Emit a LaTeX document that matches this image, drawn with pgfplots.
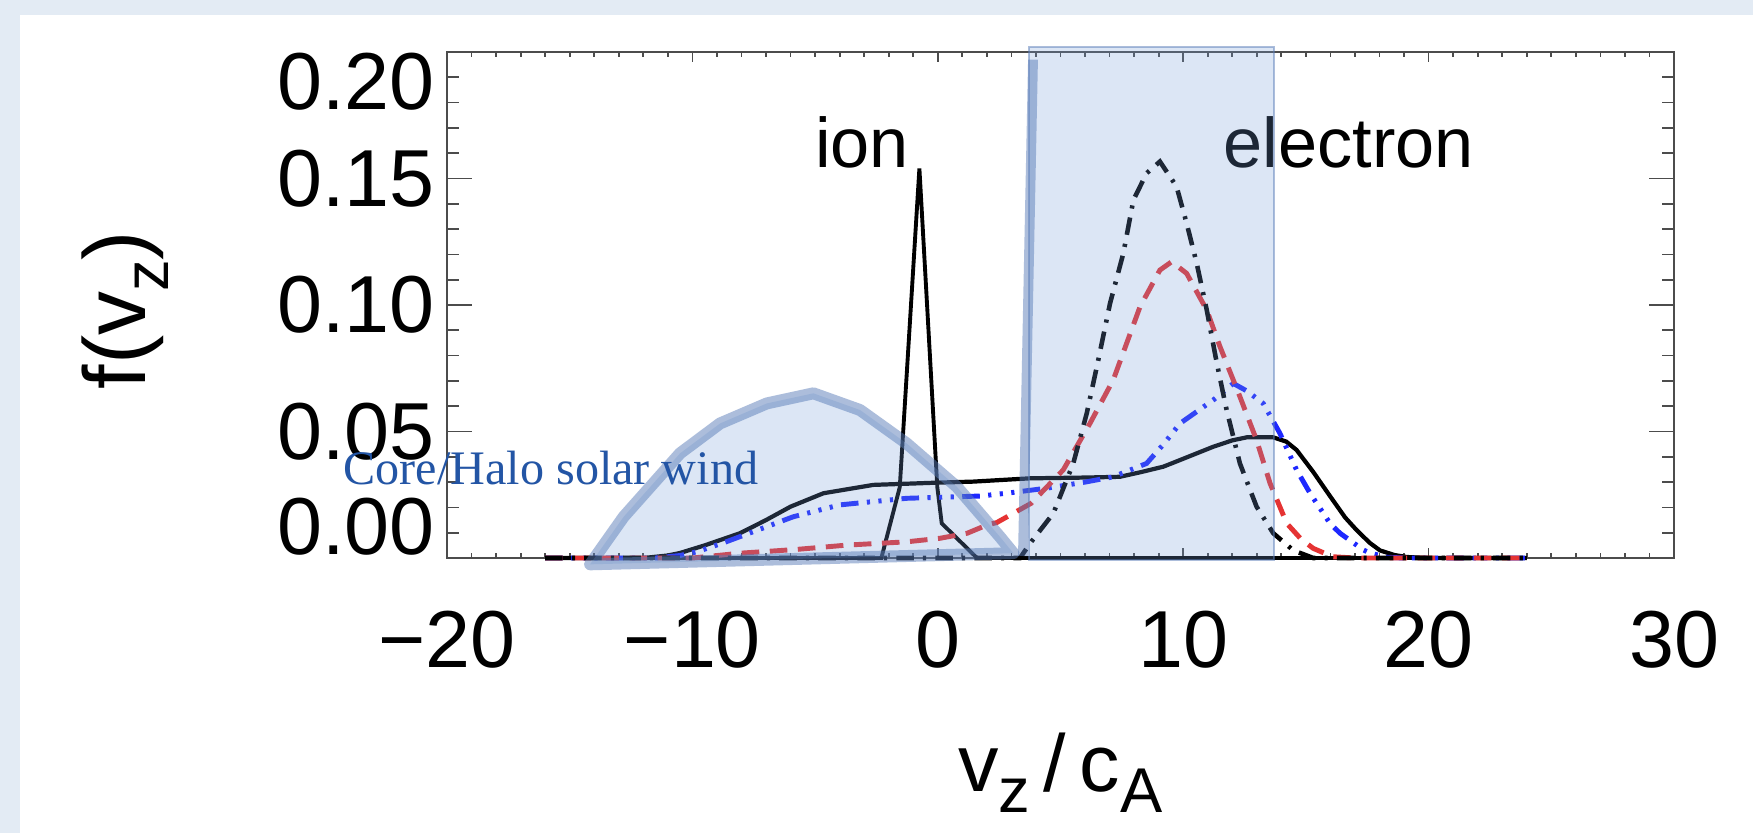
\documentclass[border=0pt]{standalone}
\usepackage{fontspec}
\setmainfont{Liberation Sans}
\newfontfamily\serif{Liberation Serif}
\usepackage{pgfplots}
\pgfplotsset{compat=1.18}

\definecolor{bgblue}{HTML}{E3EBF4}
\definecolor{idlred}{HTML}{E53333}
\definecolor{idlblue}{HTML}{1E28FF}
\definecolor{ovl}{RGB}{116,156,216}
\definecolor{ovledge}{RGB}{90,125,185}
\definecolor{annot}{RGB}{35,85,165}

\newcommand{\tk}{\fontsize{23}{26}\selectfont}
\newcommand{\sub}[1]{\raisebox{-0.26em}{\fontsize{18}{18}\selectfont #1}}

\pgfplotsset{
  frame/.style={
    scale only axis, width=122.7mm, height=50.6mm,
    xmin=-20, xmax=30, ymin=0, ymax=0.2,
    axis line style={black!70, line width=0.6pt},
    tick style={black!70, line width=0.5pt},
    clip=false,
  },
}

\begin{document}
\begin{tikzpicture}
% page background
\fill[bgblue] (-44.7mm,-27.5mm) rectangle (130.6mm,55.8mm);
\fill[white] (-42.7mm,-27.5mm) rectangle (130.6mm,54.3mm);

% x ticks (IDL: short ticks along x)
\begin{axis}[frame,
  ytick=\empty,
  xtick={-20,-10,0,10,20,30},
  xticklabels={−20,−10,0,10,20,30},
  minor x tick num=9,
  major tick length=1.0mm, minor tick length=0.5mm,
  xticklabel style={font=\tk, yshift=-4.1mm},
  xlabel={\tk v\sub{z}\,/\,c\sub{A}},
  xlabel style={at={(axis description cs:0.5,-0.462)}, anchor=base},
]
\end{axis}

\begin{axis}[frame,
  xtick=\empty,
  ytick={0,0.05,0.10,0.15,0.20},
  yticklabels={{\raisebox{9pt}[\height][\depth]{0.00}},0.05,0.10,0.15,{\raisebox{-8.5pt}[\height][\depth]{0.20}}},
  minor y tick num=4,
  major tick length=2.5mm, minor tick length=1.25mm,
  yticklabel style={font=\tk},
  ylabel={\fontsize{25}{28}\selectfont f(v\sub{z})},
  ylabel style={at={(axis description cs:-0.262,0.49)}, anchor=center},
]
% ion
\addplot[black, line width=1.1pt] coordinates {
(-16,0) (-2.3,0) (-1.55,0.028) (-0.75,0.154) (-0.02,0.028) (0.16,0.0137) (1.6,0) (24,0)};
% electron, solid
\addplot[black, line width=1.2pt] coordinates {
(-16,0) (-12,0) (-11,0.001) (-10.5,0.002) (-9.5,0.005) (-8.06,0.0098) (-7,0.015) (-6,0.0203)
(-4.66,0.0256) (-2.63,0.0289) (0,0.0298) (1.45,0.0302) (3.76,0.0315) (6,0.0318) (7.42,0.0321)
(8.3,0.034) (9.19,0.0361) (10.2,0.040) (11.23,0.044) (12.0,0.0465) (12.59,0.0477) (13.67,0.0477)
(14.2,0.046) (14.62,0.0427) (15.3,0.034) (15.98,0.0245) (16.6,0.016) (17.07,0.011) (17.6,0.006)
(18.02,0.003) (18.6,0.0012) (19.1,0.0004) (20,0) (24,0)};
% blue dash dot dot
\addplot[idlblue, line width=1.4pt, dash pattern=on 5pt off 2.4pt on 0.9pt off 2.4pt on 0.9pt off 2.4pt on 0.9pt off 2.4pt] coordinates {
(-16,0) (-11.5,0) (-10.5,0.001) (-9.8,0.0025) (-8.6,0.0065) (-7.52,0.0104) (-5.89,0.0163)
(-3.99,0.021) (-1.27,0.0236) (1.72,0.0245) (2.8,0.0256) (4.44,0.0276) (6,0.030) (7.15,0.0321)
(8.51,0.0374) (9.2,0.045) (9.87,0.0532) (11.23,0.0625) (12.04,0.069) (12.6,0.066) (13.26,0.0611)
(13.94,0.0493) (14.62,0.0348) (15.17,0.0256) (15.98,0.0137) (16.39,0.0098) (17.34,0.0032)
(17.6,0.002) (18.3,0.0003) (19,0) (24,0)};
% red dashed
\addplot[idlred, line width=1.4pt, dash pattern=on 5pt off 3pt] coordinates {
(-16,0) (-10,0) (-8.06,0.0019) (-5.75,0.0034) (-3.71,0.0051) (-1.27,0.0064) (0.09,0.0078)
(1.2,0.0098) (1.99,0.013) (2.4,0.0140) (3.8,0.0216) (5.11,0.0348) (6.2,0.0532) (7.15,0.0704)
(8.24,0.0993) (9.05,0.1138) (9.53,0.1171) (10.14,0.1125) (10.96,0.098) (11.5,0.0835)
(12.31,0.0638) (12.99,0.0466) (13.54,0.0295) (14.22,0.0137) (14.8,0.0075) (15.3,0.0038)
(16.1,0.0005) (17,0) (24,0)};
% black dash dot
\addplot[black, line width=1.3pt, dash pattern=on 5pt off 2.6pt on 0.9pt off 2.6pt] coordinates {
(-16,0) (3.35,0) (3.76,0.0058) (4.71,0.0177) (5.52,0.0374) (6.07,0.0572) (6.54,0.0783)
(7.02,0.1007) (7.56,0.1204) (7.97,0.1415) (8.51,0.1521) (9.05,0.1567) (9.73,0.1468)
(10.14,0.1323) (10.55,0.1165) (10.96,0.098) (11.37,0.077) (11.77,0.0585) (12.31,0.0374)
(12.99,0.0203) (13.67,0.0098) (14.49,0.003) (15.3,0) (24,0)};

\node[anchor=base, inner sep=0, font=\fontsize{20}{22}\selectfont] at (axis cs:-3.09,0.1545) {ion};
\node[anchor=base, inner sep=0, font=\fontsize{20}{22}\selectfont] at (axis cs:16.74,0.1545) {electron};

% highlight overlays
\filldraw[fill=ovl, fill opacity=0.25, draw=ovledge, draw opacity=0.5, line width=0.7pt]
  (axis cs:3.72,-0.0008) rectangle (axis cs:13.70,0.202);
\draw[ovledge, draw opacity=0.5, line width=2.8pt]
  (axis cs:3.88,0.197) -- (axis cs:3.47,0.0008);
\filldraw[fill=ovl, fill opacity=0.25, draw=ovledge, draw opacity=0.5, line width=3.4pt, line join=round]
  (axis cs:-14.17,-0.0025) -- (axis cs:-12.8,0.0163) -- (axis cs:-10.5,0.0414)
  -- (axis cs:-8.87,0.0532) -- (axis cs:-6.97,0.0611) -- (axis cs:-5.07,0.0651)
  -- (axis cs:-3.17,0.0585) -- (axis cs:-1.27,0.0453) -- (axis cs:0.77,0.0282)
  -- (axis cs:2.53,0.0084) -- (axis cs:3.08,0.0019) -- cycle;

\node[anchor=base west, inner sep=0, text=annot, font=\serif\fontsize{13.7}{15}\selectfont]
  at (axis cs:-24.24,0.0289) {Core/Halo solar wind};
\end{axis}

\pgfresetboundingbox
\path (-44.7mm,-27.5mm) rectangle (130.6mm,55.8mm);
\end{tikzpicture}
\end{document}
